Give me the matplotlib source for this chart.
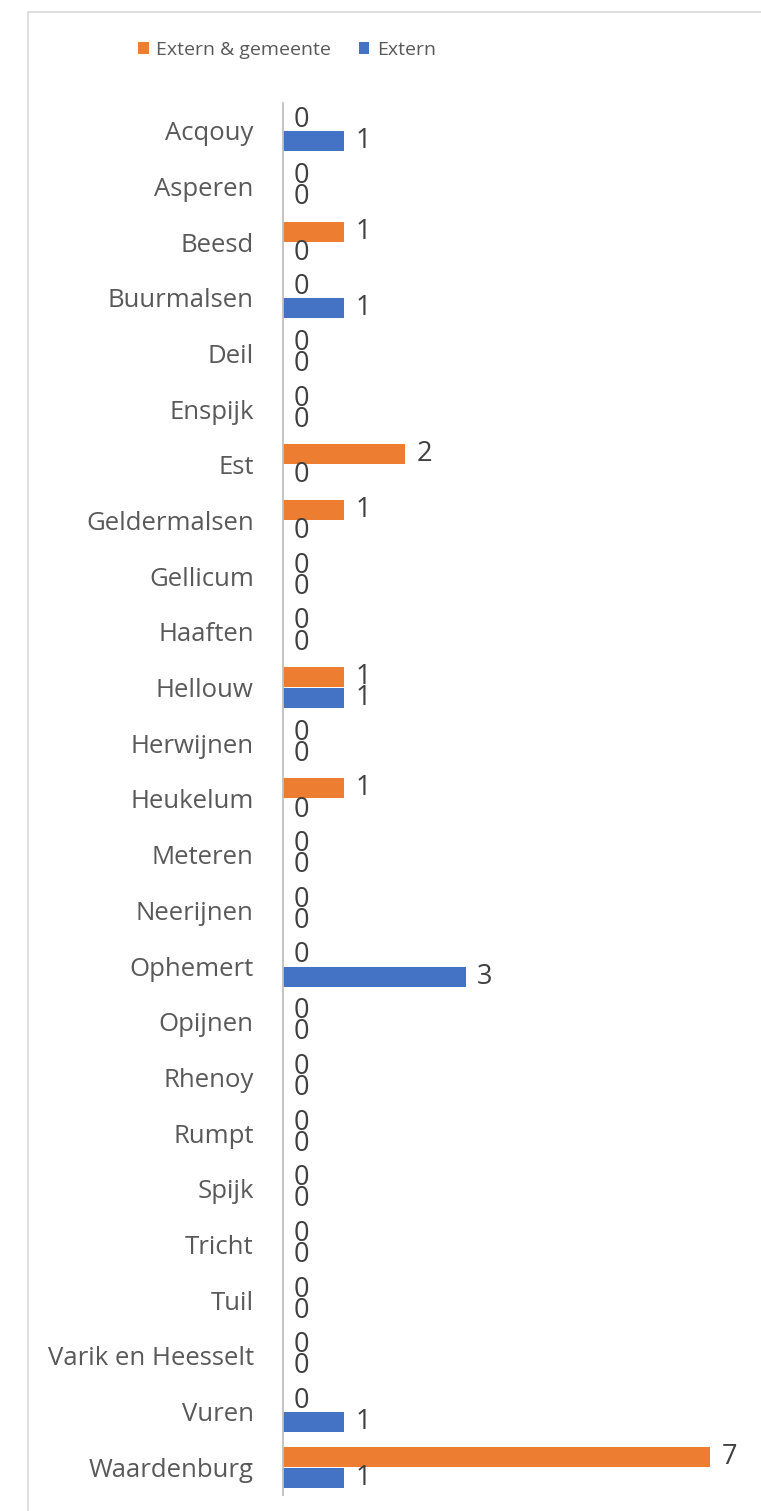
import numpy as np
import matplotlib
matplotlib.use("Agg")
import matplotlib.pyplot as plt
from matplotlib.patches import Rectangle

plt.rcParams['font.family'] = ['Open Sans', 'DejaVu Sans']

plaatsen = ["Acqouy", "Asperen", "Beesd", "Buurmalsen", "Deil", "Enspijk", "Est",
            "Geldermalsen", "Gellicum", "Haaften", "Hellouw", "Herwijnen", "Heukelum",
            "Meteren", "Neerijnen", "Ophemert", "Opijnen", "Rhenoy", "Rumpt", "Spijk",
            "Tricht", "Tuil", "Varik en Heesselt", "Vuren", "Waardenburg"]
extern_gemeente = [0, 0, 1, 0, 0, 0, 2, 1, 0, 0, 1, 0, 1, 0, 0, 0, 0, 0, 0, 0, 0, 0, 0, 0, 7]
extern = [1, 0, 0, 1, 0, 0, 0, 0, 0, 0, 1, 0, 0, 0, 0, 3, 0, 0, 0, 0, 0, 0, 0, 1, 1]

oranje = "#ED7D31"
blauw = "#4472C4"

fig = plt.figure(figsize=(7.61, 15.11), dpi=100)
# chart border (light gray frame, cut off right and bottom)
fig.patches.append(Rectangle((28 / 761, -0.01), 1.0, 1 - 12 / 1511 + 0.01,
                             transform=fig.transFigure, fill=False,
                             edgecolor="#d9d9d9", linewidth=1.2))

ax = fig.add_axes([283 / 761, 1 - 1495 / 1511, 458 / 761, (1495 - 103) / 1511])

y = np.arange(len(plaatsen))
h = 0.36
b1 = ax.barh(y - 0.19, extern_gemeente, height=h, color=oranje, label="Extern & gemeente")
b2 = ax.barh(y + 0.19, extern, height=h, color=blauw, label="Extern")

for bars in (b1, b2):
    ax.bar_label(bars, padding=8, fontsize=19.5, color="#404040")

ax.set_xlim(0, 7.5)
ax.set_ylim(len(plaatsen) - 0.5, -0.5)
ax.set_yticks(y)
ax.set_yticklabels(plaatsen, fontsize=18.5, color="#595959")
ax.tick_params(axis="y", length=0, pad=21)
ax.set_xticks([])
for s in ["top", "right", "bottom"]:
    ax.spines[s].set_visible(False)
ax.spines["left"].set_color("#bfbfbf")
ax.spines["left"].set_linewidth(1.3)

fig.legend(handles=[b1, b2], loc="center", bbox_to_anchor=(287 / 761, 1 - 50 / 1511),
           ncol=2, frameon=False, fontsize=14, labelcolor="#595959",
           handlelength=0.55, handleheight=0.55, handletextpad=0.4, columnspacing=1.4)

fig.savefig("out.png", dpi=100)
